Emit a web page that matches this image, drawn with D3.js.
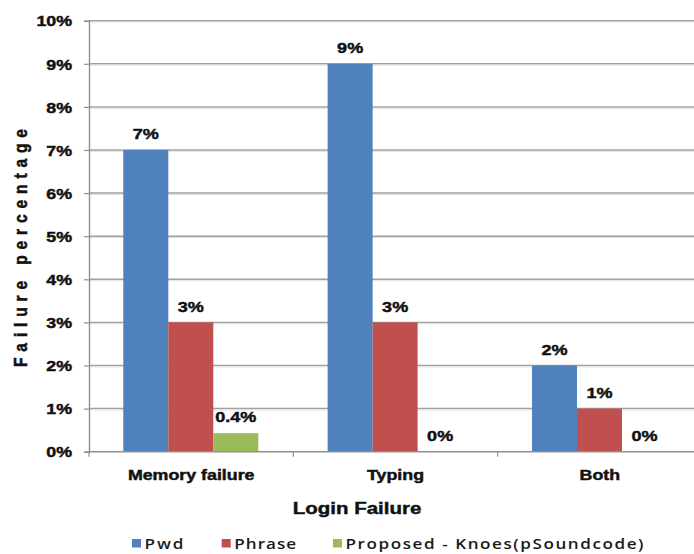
<!DOCTYPE html>
<html>
<head>
<meta charset="utf-8">
<script src="https://cdn.jsdelivr.net/npm/d3@7"></script>
<style>
  html, body { margin: 0; padding: 0; background: #fff; }
  svg { display: block; }
</style>
</head>
<body>
<svg id="chart" width="694" height="554"></svg>
<script>
const categories = ["Memory failure", "Typing", "Both"];
const seriesNames = ["Pwd", "Phrase", "Proposed - Knoes(pSoundcode)"];
const pwdValues = [7, 9, 2];
const phraseValues = [3, 3, 1];
const proposedValues = [0.43, 0, 0];
const yTicks = [0, 1, 2, 3, 4, 5, 6, 7, 8, 9, 10];
const yTitle = "Failure percentage";
const xTitle = "Login Failure";
const colors = ["#4F81BD", "#C0504D", "#9BBB59"];

(function () {
const seriesValues = [pwdValues, phraseValues, proposedValues];
const SX = 1.22; // horizontal stretch of the original picture

const svg = d3.select("#chart");
const W = 694;
const pLeft = 89, pRight = 702, pTop = 20.7, pBottom = 451.7;

const x = d3.scaleBand().domain(categories).range([pLeft, pRight]).padding(0);
const xs = d3.scaleBand().domain(seriesNames).range([34.3, 169.3]).padding(0);
const y = d3.scaleLinear().domain([0, 10]).range([pBottom, pTop]);

const BOLD = "'Liberation Sans', Arial, sans-serif";
const heavy = sel => sel.attr("font-family", BOLD).attr("font-weight", "bold")
  .attr("fill", "#111").attr("stroke", "#111").attr("stroke-width", 0.45);

// gridlines
svg.append("g").selectAll("line").data(yTicks.filter(d => d > 0)).join("line")
  .attr("x1", pLeft).attr("x2", W)
  .attr("y1", d => y(d)).attr("y2", d => y(d))
  .attr("stroke", "#a0a0a0").attr("stroke-width", 1.5);
svg.append("g").selectAll("line").data(yTicks.filter(d => d > 0)).join("line")
  .attr("x1", pLeft).attr("x2", W)
  .attr("y1", d => y(d) + 1.4).attr("y2", d => y(d) + 1.4)
  .attr("stroke", "#e2e2e2").attr("stroke-width", 1);

// bars
const groups = svg.append("g").selectAll("g").data(categories).join("g")
  .attr("transform", c => `translate(${x(c)},0)`);
groups.selectAll("rect")
  .data((c, i) => seriesNames.map((s, j) => ({ s, j, v: seriesValues[j][i] })))
  .join("rect")
  .attr("x", d => xs(d.s))
  .attr("width", xs.bandwidth())
  .attr("y", d => y(d.v))
  .attr("height", d => y(0) - y(d.v))
  .attr("fill", d => colors[d.j]);

// value labels
const fmt = v => (v > 0 && v < 1) ? v.toFixed(1) + "%" : Math.round(v) + "%";
groups.selectAll("text")
  .data((c, i) => seriesNames.map((s, j) => ({ s, j, v: seriesValues[j][i] })))
  .join("text")
  .attr("transform", d => `translate(${xs(d.s) + xs.bandwidth() / 2},${y(d.v) - 10.8}) scale(${SX},1)`)
  .attr("text-anchor", "middle")
  .attr("font-size", 14.8)
  .call(heavy)
  .text(d => fmt(d.v));

// y axis
const yAxis = d3.axisLeft(y).tickValues(yTicks).tickSize(5).tickFormat(d => d + "%");
const ya = svg.append("g").attr("transform", `translate(${pLeft},0)`).call(yAxis);
ya.select(".domain").attr("stroke", "#8f8f8f").attr("stroke-width", 1.4);
ya.selectAll(".tick line").attr("stroke", "#8f8f8f").attr("stroke-width", 1.2);
ya.selectAll(".tick text")
  .attr("x", null).attr("dy", null)
  .attr("transform", `translate(-17,5.2) scale(${SX},1)`)
  .attr("text-anchor", "end")
  .attr("font-size", 14.6)
  .call(heavy);

// x axis
const xa = svg.append("g").attr("transform", `translate(0,${pBottom})`);
xa.append("line").attr("x1", pLeft).attr("x2", W).attr("y1", 0).attr("y2", 0)
  .attr("stroke", "#8f8f8f").attr("stroke-width", 1.4);
xa.selectAll("line.tk").data(categories).join("line").attr("class", "tk")
  .attr("x1", c => x(c)).attr("x2", c => x(c)).attr("y1", 0).attr("y2", 5)
  .attr("stroke", "#8f8f8f").attr("stroke-width", 1.2);
xa.selectAll("text").data(categories).join("text")
  .attr("transform", c => `translate(${x(c) + x.bandwidth() / 2},28.5) scale(${SX},1)`)
  .attr("text-anchor", "middle")
  .attr("font-size", 14.6)
  .call(heavy)
  .text(c => c);

// x title
svg.append("text")
  .attr("transform", `translate(357,513.5) scale(${SX},1)`)
  .attr("text-anchor", "middle")
  .attr("font-size", 16.8)
  .call(heavy)
  .text(xTitle);

// y title
svg.append("text")
  .attr("transform", `translate(27.3,248) rotate(-90) scale(1,${SX})`)
  .attr("text-anchor", "middle")
  .attr("font-size", 15.6)
  .attr("textLength", 238).attr("lengthAdjust", "spacing")
  .call(heavy)
  .text(yTitle);

// legend
const legendX = [132, 221.7, 333];
const legendW = [39, 62, 298];
const lg = svg.append("g").selectAll("g").data(seriesNames).join("g");
lg.append("rect")
  .attr("x", (d, i) => legendX[i]).attr("y", 539)
  .attr("width", 9).attr("height", 8.5)
  .attr("fill", (d, i) => colors[i]);
lg.append("text")
  .attr("transform", (d, i) => `translate(${legendX[i] + 12.5},548.5) scale(${SX},1)`)
  .attr("font-family", "'Open Sans', 'Noto Sans', sans-serif").attr("font-size", 14)
  .attr("font-weight", 600)
  .attr("textLength", (d, i) => legendW[i] / SX).attr("lengthAdjust", "spacing")
  .attr("fill", "#1a1a1a")
  .text(d => d);
})();
</script>
</body>
</html>
